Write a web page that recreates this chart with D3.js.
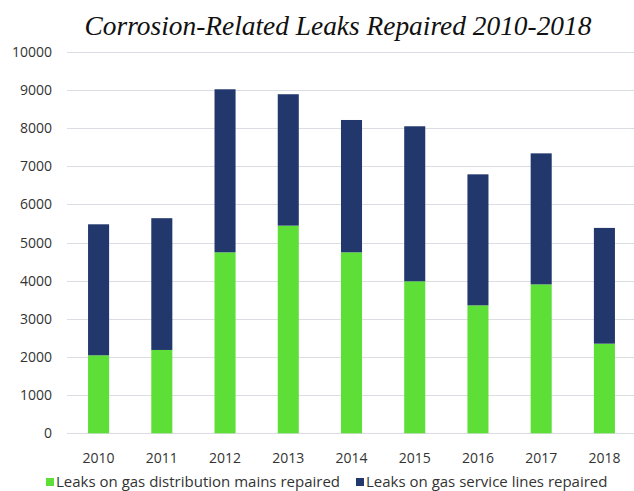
<!DOCTYPE html>
<html>
<head>
<meta charset="utf-8">
<script src="https://cdn.jsdelivr.net/npm/d3@7"></script>
<style>
  body { margin: 0; background: #fff; }
  svg { display: block; }
</style>
</head>
<body>
<div id="chart"></div>
<script>
// values
var years = ["2010", "2011", "2012", "2013", "2014", "2015", "2016", "2017", "2018"]
var mainsRepaired = [2045, 2185, 4745, 5445, 4745, 3985, 3355, 3905, 2350]
var serviceRepaired = [3435, 3455, 4275, 3445, 3470, 4065, 3435, 3435, 3035]
var yTicks = [0, 1000, 2000, 3000, 4000, 5000, 6000, 7000, 8000, 9000, 10000]
var seriesNames = ["Leaks on gas distribution mains repaired", "Leaks on gas service lines repaired"]
var seriesColors = ["#5ddf38", "#22386c"]

var width = 634, height = 491

var svg = d3.select("#chart")
    .append("svg")
    .attr("width", width)
    .attr("height", height)

var x = d3.scaleBand()
    .domain(years)
    .range([67, 636])
    .paddingInner(0.667)
    .paddingOuter(0.333)

var y = d3.scaleLinear()
    .domain([0, 10000])
    .range([433.3, 51.9])

// gridlines
svg.append("g")
    .selectAll("line")
    .data(yTicks)
    .join("line")
    .attr("x1", 67)
    .attr("x2", 634)
    .attr("y1", d => Math.round(y(d)) + 0.5)
    .attr("y2", d => Math.round(y(d)) + 0.5)
    .attr("stroke", "#dcdde3")
    .attr("stroke-width", 1)

// y labels
svg.append("g")
    .selectAll("text")
    .data(yTicks)
    .join("text")
    .attr("x", 52)
    .attr("y", d => y(d))
    .attr("dy", "0.35em")
    .attr("text-anchor", "end")
    .attr("font-family", "Open Sans, sans-serif")
    .attr("font-size", 14)
    .attr("fill", "#333")
    .text(d => d)

var rows = years.map((yr, i) => ({ year: yr, mains: mainsRepaired[i], service: serviceRepaired[i] }))
var stack = d3.stack().keys(["mains", "service"])(rows)

svg.append("g")
    .selectAll("g")
    .data(stack)
    .join("g")
    .attr("fill", (d, i) => seriesColors[i])
    .selectAll("rect")
    .data(d => d)
    .join("rect")
    .attr("x", d => x(d.data.year))
    .attr("y", d => y(d[1]))
    .attr("width", x.bandwidth())
    .attr("height", d => y(d[0]) - y(d[1]))

// x labels
svg.append("g")
    .selectAll("text")
    .data(years)
    .join("text")
    .attr("x", d => x(d) + x.bandwidth() / 2)
    .attr("y", 458)
    .attr("dy", "0.35em")
    .attr("text-anchor", "middle")
    .attr("font-family", "Open Sans, sans-serif")
    .attr("font-size", 14)
    .attr("fill", "#333")
    .text(d => d)

// title
svg.append("text")
    .attr("x", 338)
    .attr("y", 35)
    .attr("text-anchor", "middle")
    .attr("font-family", "Liberation Serif, serif")
    .attr("font-style", "italic")
    .attr("font-size", 27.4)
    .attr("fill", "#111")
    .text("Corrosion-Related Leaks Repaired 2010-2018")

// legend
var legendX = [46, 356]
var legend = svg.append("g")
    .selectAll("g")
    .data(seriesNames)
    .join("g")
    .attr("transform", (d, i) => "translate(" + legendX[i] + ",482)")

legend.append("rect")
    .attr("x", 0)
    .attr("y", -4)
    .attr("width", 8)
    .attr("height", 8)
    .attr("fill", (d, i) => seriesColors[i])

legend.append("text")
    .attr("x", 10)
    .attr("y", 0)
    .attr("dy", "0.35em")
    .attr("font-family", "Open Sans, sans-serif")
    .attr("font-size", 15)
    .attr("fill", "#333")
    .text(d => d)
</script>
</body>
</html>
